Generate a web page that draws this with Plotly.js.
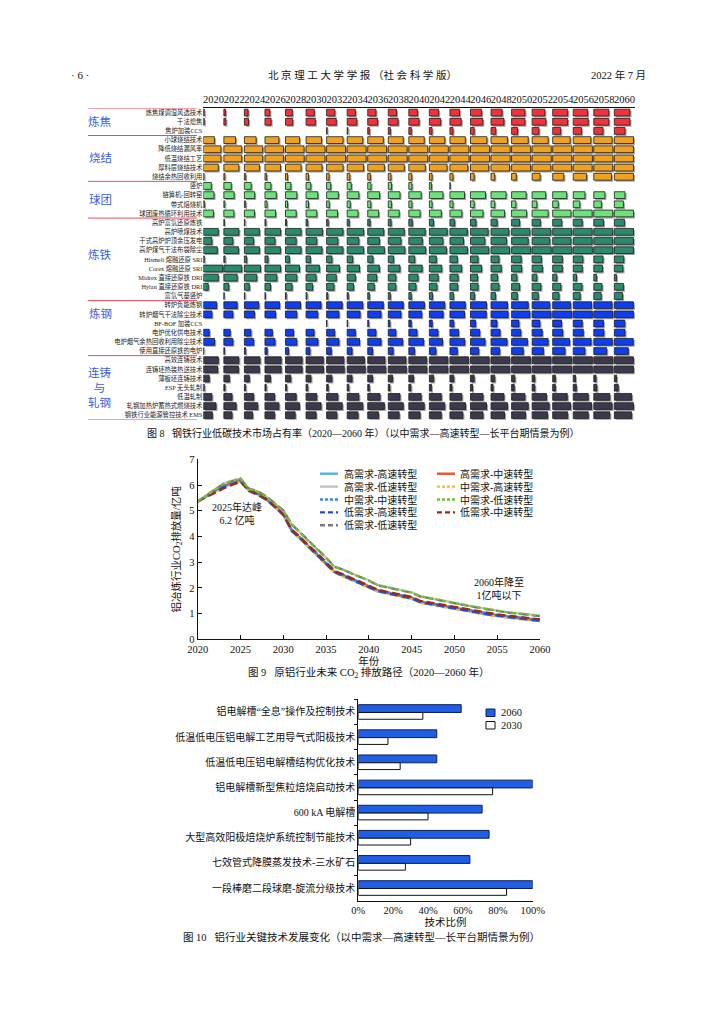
<!DOCTYPE html>
<html><head><meta charset="utf-8">
<script src="https://cdn.plot.ly/plotly-3.0.1.min.js"></script>
<style>html,body{margin:0;padding:0;background:#fff}#chart{width:724px;height:1024px}</style>
</head><body><div id="chart"></div>
<script>
// ---------------- Figure 8 data ----------------
const years8 = [2020,2022,2024,2026,2028,2030,2032,2034,2036,2038,2040,2042,2044,2046,2048,2050,2052,2054,2056,2058,2060];
const groupNames8 = ['炼焦','烧结','球团','炼铁','炼钢','连铸<br>与<br>轧钢'];
const cokingLabels = ['炼焦煤调湿风选技术','干法熄焦','焦炉加装CCS'];
const coking = [
 [0.05,0.08,0.18,0.24,0.33,0.40,0.40,0.40,0.40,0.40,0.42,0.45,0.47,0.54,0.54,0.65,0.62,0.73,0.70,0.73,0.76],
 [0.05,0.10,0.20,0.30,0.35,0.45,0.47,0.47,0.48,0.48,0.50,0.55,0.55,0.60,0.63,0.65,0.67,0.73,0.73,0.73,0.76],
 [0,0,0,0,0,0,0.03,0.04,0.08,0.10,0.12,0.13,0.15,0.18,0.23,0.29,0.33,0.39,0.40,0.45,0.52]
];
const sinterLabels = ['小球烧结技术','降低烧结漏风率','低温烧结工艺','厚料层烧结技术','烧结余热回收利用'];
const sinter = [
 [0.54,0.57,0.57,0.68,0.68,0.75,0.80,0.76,0.76,0.73,0.75,0.75,0.75,0.80,0.80,0.81,0.78,0.85,0.86,0.89,0.93],
 [0.86,0.87,0.89,0.90,0.90,0.92,0.92,0.92,0.92,0.92,0.92,0.92,0.92,0.93,0.93,0.93,0.93,0.93,0.93,0.93,0.93],
 [0.86,0.87,0.89,0.90,0.91,0.92,0.92,0.92,0.92,0.92,0.92,0.92,0.93,0.93,0.93,0.93,0.93,0.93,0.93,0.93,0.93],
 [0.73,0.73,0.73,0.76,0.76,0.78,0.80,0.80,0.81,0.78,0.80,0.86,0.87,0.89,0.90,0.92,0.91,0.92,0.92,0.92,0.93],
 [0.04,0.05,0.06,0.08,0.10,0.12,0.12,0.13,0.13,0.13,0.14,0.13,0.15,0.18,0.18,0.23,0.39,0.54,0.65,0.86,0.93]
];
const pelletLabels = ['竖炉','链箅机-回转窑','带式焙烧机','球团废热循环利用技术'];
const pellet = [
 [0.39,0.36,0.33,0.29,0.26,0.23,0.20,0.20,0.16,0.16,0.15,0.10,0.02,0,0,0,0,0,0,0,0],
 [0.52,0.50,0.50,0.55,0.55,0.57,0.57,0.57,0.58,0.57,0.60,0.66,0.71,0.73,0.73,0.71,0.66,0.68,0.57,0.54,0.52],
 [0.06,0.05,0.06,0.10,0.10,0.12,0.13,0.15,0.15,0.15,0.15,0.13,0.15,0.18,0.18,0.21,0.23,0.27,0.32,0.37,0.44],
 [0.49,0.49,0.49,0.52,0.52,0.52,0.53,0.53,0.53,0.53,0.55,0.58,0.58,0.61,0.66,0.73,0.78,0.89,0.92,0.92,0.93]
];
const ironLabels = ['高炉富氢还原炼铁','高炉喷煤技术','干式高炉炉顶余压发电','高炉煤气干法布袋除尘','Hismelt 熔融还原 SRI','Corex 熔融还原 SRI','Midrex 直接还原铁 DRI','Hylan 直接还原铁 DRI','富氢气基竖炉'];
const iron = [
 [0,0.03,0.03,0.05,0.05,0.08,0.08,0.10,0.12,0.14,0.17,0.20,0.23,0.27,0.30,0.39,0.40,0.44,0.44,0.47,0.49],
 [0.73,0.73,0.73,0.76,0.76,0.80,0.80,0.80,0.78,0.78,0.80,0.87,0.85,0.86,0.87,0.89,0.91,0.92,0.92,0.92,0.93],
 [0.42,0.44,0.45,0.49,0.52,0.52,0.55,0.57,0.57,0.62,0.66,0.66,0.66,0.70,0.75,0.81,0.86,0.89,0.92,0.92,0.93],
 [0.68,0.71,0.73,0.75,0.76,0.78,0.80,0.80,0.81,0.81,0.82,0.83,0.85,0.89,0.90,0.93,0.93,0.93,0.93,0.93,0.93],
 [0.05,0.06,0.11,0.15,0.19,0.21,0.26,0.27,0.26,0.26,0.29,0.34,0.36,0.37,0.39,0.47,0.45,0.47,0.47,0.45,0.46],
 [0.94,0.87,0.78,0.76,0.68,0.65,0.63,0.60,0.57,0.57,0.65,0.60,0.57,0.54,0.50,0.49,0.50,0.47,0.44,0.42,0.42],
 [0.73,0.65,0.60,0.58,0.55,0.49,0.47,0.40,0.44,0.37,0.45,0.43,0.40,0.34,0.32,0.26,0.23,0.20,0.16,0.13,0.10],
 [0.24,0.24,0.24,0.27,0.32,0.32,0.36,0.31,0.32,0.37,0.35,0.37,0.38,0.37,0.39,0.39,0.43,0.40,0.43,0.40,0.44],
 [0,0.02,0.03,0.03,0.04,0.05,0.06,0.06,0.08,0.10,0.12,0.15,0.17,0.20,0.22,0.28,0.30,0.31,0.34,0.36,0.40]
];
const steelLabels = ['转炉负能炼钢','转炉烟气干法除尘技术','BF-BOF 加装CCS','电炉优化供电技术','电炉烟气余热回收利用除尘技术','使用直接还原铁的电炉'];
const steel = [
 [0.65,0.65,0.70,0.71,0.73,0.73,0.76,0.76,0.76,0.73,0.76,0.75,0.75,0.78,0.80,0.81,0.86,0.87,0.89,0.89,0.93],
 [0.42,0.44,0.49,0.52,0.55,0.57,0.60,0.63,0.65,0.62,0.63,0.67,0.71,0.77,0.83,0.89,0.92,0.93,0.93,0.93,0.93],
 [0,0,0,0,0,0,0.02,0.03,0.05,0.08,0.12,0.14,0.19,0.25,0.29,0.36,0.38,0.43,0.44,0.47,0.51],
 [0.29,0.31,0.32,0.36,0.39,0.39,0.39,0.40,0.40,0.37,0.40,0.42,0.42,0.45,0.44,0.45,0.49,0.49,0.49,0.49,0.52],
 [0.55,0.44,0.45,0.49,0.55,0.58,0.60,0.60,0.65,0.70,0.72,0.64,0.72,0.71,0.78,0.77,0.78,0.82,0.87,0.90,0.92],
 [0.03,0.04,0.06,0.11,0.15,0.19,0.23,0.24,0.24,0.24,0.28,0.32,0.36,0.40,0.42,0.57,0.55,0.60,0.57,0.63,0.68]
];
const castLabels = ['高效连铸技术','连铸坯热装热送技术','薄板坯连铸技术','ESP 无头轧制','低温轧制','轧钢加热炉蓄热式燃烧技术','钢铁行业能源管控技术 EMS'];
const cast = [
 [0.73,0.73,0.76,0.79,0.81,0.84,0.84,0.84,0.84,0.86,0.87,0.90,0.90,0.91,0.91,0.92,0.92,0.93,0.93,0.93,0.93],
 [0.70,0.71,0.73,0.79,0.81,0.85,0.86,0.88,0.88,0.88,0.88,0.90,0.90,0.91,0.91,0.92,0.92,0.93,0.93,0.93,0.93],
 [0.29,0.27,0.24,0.27,0.26,0.24,0.26,0.24,0.24,0.21,0.23,0.21,0.19,0.18,0.18,0.16,0.13,0.13,0.11,0.11,0.11],
 [0.05,0.06,0.06,0.06,0.06,0.08,0.08,0.08,0.08,0.08,0.10,0.10,0.10,0.10,0.10,0.13,0.13,0.13,0.15,0.15,0.19],
 [0.42,0.40,0.45,0.47,0.52,0.52,0.55,0.57,0.60,0.57,0.60,0.58,0.58,0.61,0.63,0.65,0.70,0.71,0.73,0.78,0.84],
 [0.62,0.60,0.65,0.68,0.68,0.73,0.76,0.76,0.81,0.73,0.75,0.75,0.76,0.78,0.80,0.81,0.83,0.87,0.89,0.89,0.93],
 [0.44,0.40,0.40,0.47,0.47,0.49,0.50,0.53,0.53,0.53,0.55,0.58,0.63,0.61,0.66,0.68,0.75,0.73,0.73,0.78,0.84]
];
const groupColors8 = ['#f2323a','#f0a21f','#6be37a','#2b8a6e','#0e3ef0','#3a3a4c'];

// ---------------- Figure 9 data ----------------
const years9 = [2020,2021,2022,2023,2024,2025,2026,2027,2028,2029,2030,2031,2032,2033,2034,2035,2036,2037,2038,2039,2040,2041,2042,2043,2044,2045,2046,2047,2048,2049,2050,2051,2052,2053,2054,2055,2056,2057,2058,2059,2060];
const hiHigh = [5.36,5.56,5.74,5.92,6.04,6.16,5.77,5.63,5.43,5.15,4.83,4.20,3.90,3.56,3.26,2.92,2.60,2.46,2.31,2.17,2.04,1.87,1.79,1.72,1.65,1.58,1.43,1.37,1.30,1.24,1.17,1.11,1.05,1.00,0.95,0.91,0.86,0.82,0.78,0.74,0.71];
const hiMid  = [5.36,5.56,5.76,5.97,6.08,6.20,5.80,5.68,5.48,5.20,4.86,4.24,3.94,3.60,3.30,2.96,2.62,2.50,2.35,2.21,2.08,1.91,1.83,1.76,1.69,1.62,1.47,1.41,1.34,1.28,1.21,1.15,1.09,1.04,0.99,0.94,0.90,0.86,0.82,0.78,0.75];
const hiLow  = [5.36,5.60,5.84,6.06,6.17,6.25,5.85,5.75,5.56,5.30,5.01,4.46,4.14,3.81,3.49,3.17,2.81,2.71,2.56,2.42,2.30,2.12,2.04,1.97,1.90,1.83,1.68,1.62,1.55,1.48,1.42,1.36,1.29,1.23,1.17,1.12,1.07,1.03,0.99,0.95,0.92];
const midHigh= [5.36,5.55,5.72,5.90,6.02,6.14,5.76,5.62,5.42,5.14,4.82,4.18,3.88,3.54,3.24,2.90,2.58,2.44,2.29,2.15,2.02,1.85,1.77,1.70,1.63,1.56,1.41,1.35,1.28,1.22,1.15,1.09,1.03,0.98,0.93,0.89,0.84,0.80,0.76,0.72,0.69];
const midMid = [5.36,5.57,5.78,5.99,6.10,6.21,5.79,5.67,5.47,5.19,4.88,4.26,3.96,3.62,3.32,2.98,2.64,2.51,2.36,2.22,2.09,1.92,1.84,1.77,1.70,1.63,1.48,1.42,1.35,1.29,1.22,1.16,1.10,1.05,1.00,0.95,0.91,0.87,0.83,0.79,0.76];
const midLow = [5.36,5.58,5.82,6.05,6.16,6.26,5.84,5.74,5.55,5.29,5.00,4.45,4.13,3.80,3.48,3.16,2.80,2.70,2.55,2.41,2.29,2.11,2.03,1.96,1.89,1.82,1.67,1.61,1.54,1.47,1.41,1.35,1.28,1.22,1.16,1.11,1.06,1.02,0.98,0.94,0.91];
const loHigh = [5.36,5.55,5.73,5.91,6.03,6.15,5.76,5.62,5.42,5.15,4.84,4.21,3.91,3.57,3.27,2.93,2.61,2.47,2.32,2.18,2.05,1.88,1.80,1.73,1.66,1.59,1.44,1.38,1.31,1.25,1.18,1.12,1.06,1.01,0.96,0.92,0.87,0.83,0.79,0.75,0.72];
const loMid  = [5.36,5.53,5.70,5.86,6.00,6.12,5.78,5.66,5.46,5.18,4.87,4.27,3.98,3.64,3.34,3.00,2.66,2.53,2.38,2.24,2.11,1.94,1.86,1.79,1.72,1.65,1.50,1.44,1.37,1.31,1.24,1.18,1.12,1.07,1.02,0.97,0.93,0.89,0.85,0.81,0.78];
const loLow  = [5.36,5.58,5.83,6.04,6.14,6.24,5.86,5.76,5.57,5.31,5.02,4.47,4.15,3.82,3.50,3.18,2.82,2.71,2.56,2.42,2.28,2.10,2.02,1.95,1.88,1.81,1.66,1.60,1.53,1.46,1.40,1.34,1.27,1.21,1.15,1.10,1.05,1.01,0.97,0.93,0.90];
const scenarioNames = ['高需求-高速转型','高需求-中速转型','高需求-低速转型','中需求-高速转型','中需求-中速转型','中需求-低速转型','低需求-高速转型','低需求-中速转型','低需求-低速转型'];
const scenarioColors = ['#5aaee0','#f2502a','#c4c4c4','#f8b83a','#3c82f0','#6cc62a','#1f4ec8','#a0281a','#7a7a7a'];
const scenarioDash = ['solid','solid','solid','4px,3px','4px,3px','4px,3px','8px,4px','8px,4px','8px,4px'];

// ---------------- Figure 10 data ----------------
const alTech = ['铝电解槽“全息”操作及控制技术','低温低电压铝电解工艺用导气式阳极技术','低温低电压铝电解槽结构优化技术','铝电解槽新型焦粒焙烧启动技术','600 kA 电解槽','大型高效阳极焙烧炉系统控制节能技术','七效管式降膜蒸发技术-三水矿石','一段棒磨二段球磨-旋流分级技术'];
const share2060 = [0.59,0.45,0.45,1.00,0.71,0.75,0.64,1.00];
const share2030 = [0.37,0.17,0.24,0.77,0.40,0.30,0.27,0.85];
const pctTicks = [0,0.2,0.4,0.6,0.8,1.0];

// ---------------- build ----------------
const W=724,H=1024;
const px=x=>x/W, py=y=>1-y/H;
const SERIF='Liberation Serif, Noto Sans CJK SC, serif';
const CJK='Liberation Serif, Noto Sans CJK SC, sans-serif';

const groupRows=[coking,sinter,pellet,iron,steel,cast];
const labelShift=[0,0,0,-0.5,-1.6,0];
const techLabels8=[].concat(cokingLabels,sinterLabels,pelletLabels,ironLabels,steelLabels,castLabels);
const traces=[]; const shapes=[]; const annotations=[];
let rowIdx=0; const bounds=[0]; const groupCenters=[];
groupRows.forEach((rows,g)=>{
  const ys=[],xs=[],bs=[];
  const start=rowIdx;
  rows.forEach(row=>{
    row.forEach((v,k)=>{ if(v>0){ys.push(rowIdx);xs.push(v*2);bs.push(years8[k]-1);} });
    rowIdx++;
  });
  bounds.push(rowIdx);
  groupCenters.push((start+rowIdx-1)/2);
  traces.push({type:'bar',orientation:'h',xaxis:'x',yaxis:'y',y:ys.map(y=>y+0.17),x:xs,base:bs.map(b=>b+0.15),width:0.74,
    marker:{color:'#a4a4a4',line:{width:0}},hoverinfo:'skip',showlegend:false});
  traces.push({type:'bar',orientation:'h',xaxis:'x',yaxis:'y',y:ys,x:xs,base:bs,width:0.74,
    marker:{color:groupColors8[g],line:{color:'#1c1c1c',width:0.8}},hoverinfo:'skip',showlegend:false});
});
bounds.forEach(b=>shapes.push({type:'line',xref:'paper',yref:'y',x0:px(88),x1:px(197),y0:b-0.5,y1:b-0.5,line:{color:'#ee4a5a',width:1}}));
groupNames8.forEach((n,g)=>{
  annotations.push({xref:'paper',yref:'y',x:px(100),y:groupCenters[g]+labelShift[g],text:n,showarrow:false,
    font:{family:CJK,size:11.5,color:'#3d5ce0'},xanchor:'center',yanchor:'middle'});
});

// fig 9 lines
const series9=[hiHigh,hiMid,hiLow,midHigh,midMid,midLow,loHigh,loMid,loLow];
const drawOrder=[2,0,1,3,4,6,7,8,5];
drawOrder.forEach(i=>{
  traces.push({type:'scatter',mode:'lines',xaxis:'x2',yaxis:'y2',x:years9,y:series9[i],name:scenarioNames[i],
    line:{color:scenarioColors[i],width:2.2,dash:scenarioDash[i]},showlegend:false,hoverinfo:'skip'});
});
// manual legend fig 9 (two columns)
const legRows=[473.7,486.6,499.5,512.4,525.3];
scenarioNames.forEach((n,i)=>{
  const col=i%2, r=Math.floor(i/2);
  const lx0=col?437:320, lx1=col?455:338, tx=col?458:342;
  shapes.push({type:'line',xref:'paper',yref:'paper',x0:px(lx0),x1:px(lx1),y0:py(legRows[r]),y1:py(legRows[r]),
    line:{color:scenarioColors[i],width:2.4,dash:scenarioDash[i]==='solid'?'solid':(i<6?'3px,2px':'5px,3px')}});
  annotations.push({xref:'paper',yref:'paper',x:px(tx),y:py(legRows[r]),text:n,showarrow:false,xanchor:'left',yanchor:'middle',
    font:{family:CJK,size:10,color:'#111'}});
});
annotations.push({xref:'x2',yref:'y2',x:2024.55,y:4.9,text:'2025年达峰<br>6.2 亿吨',showarrow:false,font:{family:CJK,size:10,color:'#111'},align:'center'});
annotations.push({xref:'x2',yref:'y2',x:2055.2,y:1.96,text:'2060年降至<br>1亿吨以下',showarrow:false,font:{family:CJK,size:10,color:'#111'},align:'center'});

// fig 10 bars
traces.push({type:'bar',orientation:'h',xaxis:'x3',yaxis:'y3',y:alTech,x:share2060,width:0.31,offset:-0.29,name:'2060',
  marker:{color:'#1f5fe6',line:{color:'#0f1f55',width:1}},hoverinfo:'skip',showlegend:false});
traces.push({type:'bar',orientation:'h',xaxis:'x3',yaxis:'y3',y:alTech,x:share2030,width:0.27,offset:0.02,name:'2030',
  marker:{color:'#ffffff',line:{color:'#111',width:1}},hoverinfo:'skip',showlegend:false});
shapes.push({type:'rect',xref:'paper',yref:'paper',x0:px(486),x1:px(495),y0:py(716.5),y1:py(709),fillcolor:'#1f5fe6',line:{color:'#0f1f55',width:1}});
shapes.push({type:'rect',xref:'paper',yref:'paper',x0:px(486),x1:px(495),y0:py(729),y1:py(721.5),fillcolor:'#fff',line:{color:'#111',width:1}});
annotations.push({xref:'paper',yref:'paper',x:px(499),y:py(712.8),text:'2060',showarrow:false,xanchor:'left',yanchor:'middle',font:{family:SERIF,size:10.5,color:'#111'}});
annotations.push({xref:'paper',yref:'paper',x:px(499),y:py(725.3),text:'2030',showarrow:false,xanchor:'left',yanchor:'middle',font:{family:SERIF,size:10.5,color:'#111'}});

// header + captions
const pageText=[
  {x:80,y:75,t:'· 6 ·',a:'center',s:11},
  {x:362,y:75,t:'北 京 理 工 大 学 学 报 （社 会 科 学 版）',a:'center',s:10.5},
  {x:648,y:75,t:'2022 年 7 月',a:'right',s:10.5},
  {x:363,y:433,t:'图 8   钢铁行业低碳技术市场占有率（2020—2060 年）（以中需求—高速转型—长平台期情景为例）',a:'center',s:10},
  {x:368,y:673,t:'图 9   原铝行业未来 CO<sub>2</sub> 排放路径（2020—2060 年）',a:'center',s:10.5},
  {x:361,y:937,t:'图 10   铝行业关键技术发展变化（以中需求—高速转型—长平台期情景为例）',a:'center',s:10.5}
];
pageText.forEach(p=>annotations.push({xref:'paper',yref:'paper',x:px(p.x),y:py(p.y),text:p.t,showarrow:false,xanchor:p.a,yanchor:'middle',
  font:{family:CJK,size:p.s,color:'#111'}}));

const layout={
  width:W,height:H,margin:{l:0,r:0,t:0,b:0},paper_bgcolor:'#fff',plot_bgcolor:'rgba(0,0,0,0)',
  barmode:'overlay',showlegend:false,
  xaxis:{domain:[px(203.3),px(634.9)],range:[2019,2061],side:'top',anchor:'y',tickvals:years8,ticktext:years8.map(String),tickangle:0,
    tickfont:{family:SERIF,size:10.5,color:'#111'},showline:true,linecolor:'#111',linewidth:1,ticks:'',showgrid:false,zeroline:false,fixedrange:true},
  yaxis:{domain:[py(419.8),py(108)],range:[33.5,-0.5],anchor:'x',tickvals:techLabels8.map((_,i)=>i),ticktext:techLabels8,
    tickfont:{family:CJK,size:6.3,color:'#222'},showline:false,ticks:'',showgrid:false,zeroline:false,fixedrange:true},
  xaxis2:{domain:[px(197.7),px(540)],range:[2020,2060],anchor:'y2',tickvals:[2020,2025,2030,2035,2040,2045,2050,2055,2060],
    ticks:'inside',ticklen:4,tickcolor:'#111',showline:true,linecolor:'#111',linewidth:1,showgrid:false,zeroline:false,
    tickfont:{family:SERIF,size:10.5,color:'#111'},title:{text:'年份',font:{family:CJK,size:10.5,color:'#111'},standoff:0}},
  yaxis2:{domain:[py(639.3),py(459.3)],range:[0,7],dtick:1,anchor:'x2',
    ticks:'inside',ticklen:4,tickcolor:'#111',showline:true,linecolor:'#111',linewidth:1,showgrid:false,zeroline:false,
    tickfont:{family:SERIF,size:10.5,color:'#111'},title:{text:'铝冶炼行业CO<sub>2</sub>排放量/亿吨',font:{family:CJK,size:10.5,color:'#111'},standoff:6}},
  xaxis3:{domain:[px(358.3),px(532.7)],range:[0,1],anchor:'y3',tickvals:pctTicks,ticktext:pctTicks.map(v=>Math.round(v*100)+'%'),
    ticks:'',showline:true,linecolor:'#111',linewidth:1,showgrid:false,zeroline:false,
    tickfont:{family:SERIF,size:10.5,color:'#111'},title:{text:'技术比例',font:{family:CJK,size:10.5,color:'#111'},standoff:2}},
  yaxis3:{domain:[py(900.6),py(699.4)],type:'category',categoryorder:'array',categoryarray:alTech,range:[7.5,-0.5],anchor:'x3',
    ticks:'outside',tickson:'boundaries',ticklen:3,tickcolor:'#111',showline:true,linecolor:'#111',linewidth:1,showgrid:false,zeroline:false,
    tickfont:{family:CJK,size:10,color:'#111'}},
  shapes:shapes,annotations:annotations
};
Plotly.newPlot('chart',traces,layout,{staticPlot:true,displayModeBar:false});
</script></body></html>
